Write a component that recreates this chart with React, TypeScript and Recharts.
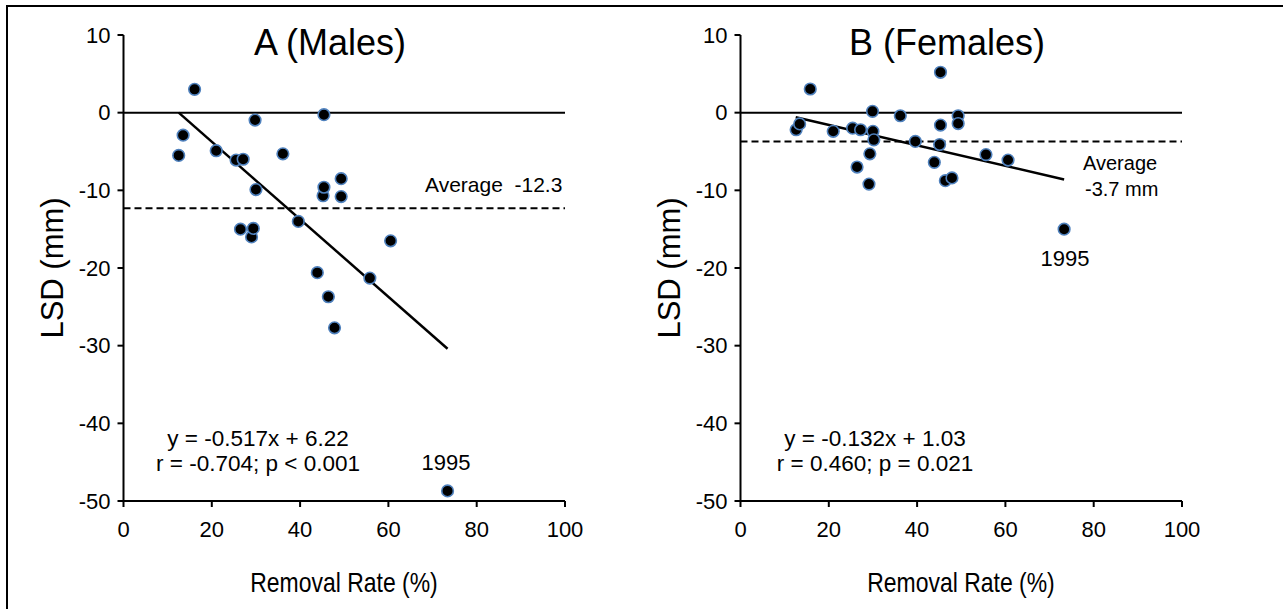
import React from 'react';
import { ScatterChart, Scatter, XAxis, YAxis, ReferenceLine } from 'recharts';

// removal rate (%) and length-at-age shift (mm)
const malesRate = [12.5, 13.5, 16.1, 21.0, 25.5, 26.5, 27.1, 29.0, 29.4, 29.8, 30.0, 36.1, 39.6, 43.9, 45.2, 45.4, 45.4, 46.4, 47.8, 49.3, 49.3, 55.8, 60.5, 73.4];
const malesLsd = [-5.5, -2.9, 3.0, -4.9, -6.1, -15.0, -6.0, -16.0, -14.9, -0.95, -9.9, -5.3, -14.0, -20.6, -10.7, -0.26, -9.6, -23.7, -27.7, -8.5, -10.8, -21.3, -16.5, -48.7];

const femalesRate = [12.6, 13.4, 15.8, 21.0, 25.4, 26.4, 27.2, 29.1, 29.3, 29.9, 30.0, 30.2, 36.2, 39.6, 43.9, 45.1, 45.3, 45.3, 46.4, 47.9, 49.3, 49.3, 55.6, 60.6, 73.3];
const femalesLsd = [-2.2, -1.45, 3.05, -2.4, -2.0, -7.0, -2.2, -9.2, -5.3, 0.17, -2.4, -3.5, -0.4, -3.7, -6.4, -4.1, 5.2, -1.6, -8.75, -8.4, -0.4, -1.4, -5.4, -6.1, -15.0];

// fitted lines as drawn (ends at min / max removal rate)
const malesFit = [{ x: 12.5, y: 0 }, { x: 73.4, y: -30.4 }];
const femalesFit = [{ x: 12.5, y: -0.6 }, { x: 73.3, y: -8.6 }];

const malesAverage = -12.3;
const femalesAverage = -3.7;

const xTicks = [0, 20, 40, 60, 80, 100];
const yTicks = [-50, -40, -30, -20, -10, 0, 10];

const FONT = 'Arial, "Liberation Sans", sans-serif';
const W = 620;
const H = 609;

const Dot = (props: any) => {
  const { cx, cy } = props;
  if (cx == null || cy == null) return null;
  return <circle cx={cx} cy={cy} r={5.8} fill="#000" stroke="#4f81bd" strokeWidth={1.6} />;
};

interface PanelProps {
  rate: number[];
  lsd: number[];
  fit: { x: number; y: number }[];
  average: number;
  title: string;
  eq: string;
  stats: string;
  avgText: React.ReactNode;
  yearLabel: React.ReactNode;
}

const Panel: React.FC<PanelProps> = ({ rate, lsd, fit, average, title, eq, stats, avgText, yearLabel }) => {
  const points = rate.map((r, i) => ({ x: r, y: lsd[i] }));
  return (
    <ScatterChart width={W} height={H} margin={{ top: 35, right: 55, bottom: 68, left: 63.5 }}>
      <XAxis
        type="number"
        dataKey="x"
        domain={[0, 100]}
        ticks={xTicks}
        tickSize={6}
        tickMargin={14}
        axisLine={{ stroke: '#000', strokeWidth: 2 }}
        tickLine={{ stroke: '#000', strokeWidth: 2 }}
        tick={{ fill: '#000', fontSize: 22, fontFamily: FONT }}
        height={40}
      />
      <YAxis
        type="number"
        dataKey="y"
        domain={[-50, 10]}
        ticks={yTicks}
        tickSize={6}
        tickMargin={7}
        axisLine={{ stroke: '#000', strokeWidth: 2 }}
        tickLine={{ stroke: '#000', strokeWidth: 2 }}
        tick={{ fill: '#000', fontSize: 22, fontFamily: FONT }}
        width={60}
      />
      <ReferenceLine y={0} stroke="#000" strokeWidth={2} />
      <ReferenceLine y={average} stroke="#000" strokeWidth={2} strokeDasharray="7 4" />
      <ReferenceLine segment={fit} stroke="#000" strokeWidth={2.5} />
      <Scatter data={points} shape={<Dot />} isAnimationActive={false} />
      <text x={330} y={55} textAnchor="middle" fontSize={36} fontFamily={FONT} fill="#000">{title}</text>
      <text x={258} y={446} textAnchor="middle" fontSize={22.5} fontFamily={FONT} fill="#000">{eq}</text>
      <text x={258} y={471} textAnchor="middle" fontSize={22.5} fontFamily={FONT} fill="#000">{stats}</text>
      {avgText}
      {yearLabel}
      <text x={0} y={0} transform="translate(344,592) scale(0.82,1)" textAnchor="middle" fontSize={28} fontFamily={FONT} fill="#000">Removal Rate (%)</text>
      <text x={0} y={0} transform="translate(63,268) rotate(-90)" textAnchor="middle" fontSize={31} fontFamily={FONT} fill="#000">LSD (mm)</text>
    </ScatterChart>
  );
};

const txt = { fontSize: 20, fontFamily: FONT, fill: '#000' };

export default function App() {
  return (
    <div style={{ position: 'absolute', left: 0, top: 0, width: 1283, height: 609, background: '#fff' }}>
      <div style={{ position: 'absolute', left: 6, top: 5, width: 1277, height: 604, borderTop: '2px solid #000', borderLeft: '2px solid #000', boxSizing: 'border-box' }} />
      <div style={{ position: 'absolute', left: 0, top: 0 }}>
        <Panel
          rate={malesRate}
          lsd={malesLsd}
          fit={malesFit}
          average={malesAverage}
          title="A (Males)"
          eq="y = -0.517x + 6.22"
          stats="r = -0.704; p < 0.001"
          avgText={<text x={425} y={192} {...txt} fontSize={21} style={{ whiteSpace: 'pre' }}>{'Average  -12.3'}</text>}
          yearLabel={<text x={446} y={470} textAnchor="middle" {...txt} fontSize={22}>1995</text>}
        />
      </div>
      <div style={{ position: 'absolute', left: 617, top: 0 }}>
        <Panel
          rate={femalesRate}
          lsd={femalesLsd}
          fit={femalesFit}
          average={femalesAverage}
          title="B (Females)"
          eq="y = -0.132x + 1.03"
          stats="r = 0.460; p = 0.021"
          avgText={
            <g>
              <text x={466} y={170} {...txt}>Average</text>
              <text x={468} y={196} {...txt}>-3.7 mm</text>
            </g>
          }
          yearLabel={<text x={448} y={266} textAnchor="middle" {...txt} fontSize={22}>1995</text>}
        />
      </div>
    </div>
  );
}
